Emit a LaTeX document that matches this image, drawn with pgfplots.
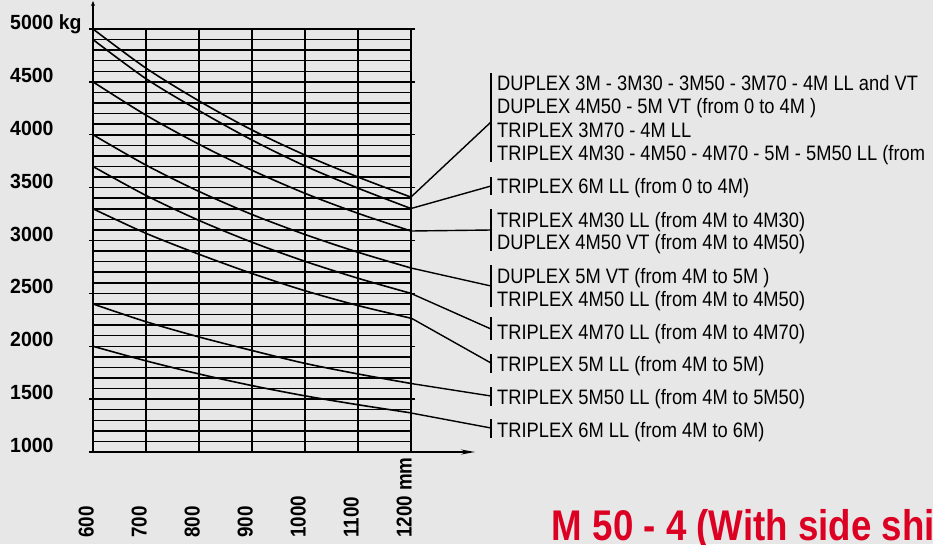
\documentclass[border=0pt]{standalone}
\usepackage{pgfplots}
\pgfplotsset{compat=1.18}
\usetikzlibrary{arrows.meta}
\usepackage{fontspec}
\setmainfont{Liberation Sans}
\newfontfamily\cond[FakeStretch=0.875]{Liberation Sans}
\newfontfamily\condb[FakeStretch=0.95]{Liberation Sans}
\newfontfamily\condt[FakeStretch=0.855]{Liberation Sans}

\definecolor{bg}{RGB}{231,231,231}
\definecolor{titlered}{RGB}{220,0,35}

\pgfplotstableread{
mm kg
600 5000
700 4630
800 4320
900 4045
1000 3808
1100 3600
1200 3410
}\curvea
\pgfplotstableread{
mm kg
600 4900
700 4530
800 4228
900 3950
1000 3705
1100 3495
1200 3302
}\curveb
\pgfplotstableread{
mm kg
600 4500
700 4185
800 3910
900 3664
1000 3446
1100 3257
1200 3090
}\curvec
\pgfplotstableread{
mm kg
600 4000
700 3713
800 3464
900 3246
1000 3057
1100 2889
1200 2740
}\curved
\pgfplotstableread{
mm kg
600 3700
700 3426
800 3190
900 2984
1000 2803
1100 2643
1200 2500
}\curvee
\pgfplotstableread{
mm kg
600 3300
700 3068
800 2870
900 2688
1000 2525
1100 2385
1200 2265
}\curvef
\pgfplotstableread{
mm kg
600 2400
700 2232
800 2088
900 1960
1000 1838
1100 1738
1200 1648
}\curveg
\pgfplotstableread{
mm kg
600 2000
700 1862
800 1738
900 1628
1000 1531
1100 1447
1200 1370
}\curveh

\begin{document}
\begin{tikzpicture}
\path[use as bounding box] (0pt,0pt) rectangle (933pt,-544pt);
\fill[bg] (0pt,0pt) rectangle (933pt,-544pt);
\clip (0pt,0pt) rectangle (933pt,-544pt);

\begin{axis}[
at={(93pt,-452pt)}, anchor=south west,
scale only axis,
width=318pt, height=423pt,
xmin=600, xmax=1200,
ymin=1000, ymax=5000,
clip=false,
axis line style={black, line width=1.6pt},
xtick={600,700,...,1200},
ytick={1000,1100,...,5000},
xticklabels={}, yticklabels={},
major tick length=0pt,
xmajorgrids, ymajorgrids,
major grid style={black, line width=1.5pt},
extra y ticks={1000,1500,...,5000},
extra y tick labels={},
extra y tick style={major tick length=4pt, tick align=outside, grid=none,
  tick style={black, line width=1.4pt}},
]
\addplot [black, line width=1.6pt, smooth] table [x=mm, y=kg] {\curvea};
\addplot [black, line width=1.6pt, smooth] table [x=mm, y=kg] {\curveb};
\addplot [black, line width=1.6pt, smooth] table [x=mm, y=kg] {\curvec};
\addplot [black, line width=1.6pt, smooth] table [x=mm, y=kg] {\curved};
\addplot [black, line width=1.6pt, smooth] table [x=mm, y=kg] {\curvee};
\addplot [black, line width=1.6pt, smooth] table [x=mm, y=kg] {\curvef};
\addplot [black, line width=1.6pt, smooth] table [x=mm, y=kg] {\curveg};
\addplot [black, line width=1.6pt, smooth] table [x=mm, y=kg] {\curveh};
\end{axis}

% axis arrows
\draw[line width=1.6pt, -{Stealth[length=14pt,width=5pt]}] (89pt,-452pt) -- (475pt,-452pt);
\draw[line width=1.6pt, -{Stealth[length=5pt,width=4pt]}] (93pt,-452pt) -- (93pt,-1pt);

% y tick labels
\begin{scope}[every node/.style={anchor=base west, inner sep=0pt,
  font=\condb\bfseries\fontsize{20.5}{24}\selectfont}]
\node at (10pt,-29.5pt) {5000 kg};
\node at (10pt,-82.4pt) {4500};
\node at (10pt,-135.3pt) {4000};
\node at (10pt,-188.1pt) {3500};
\node at (10pt,-241pt) {3000};
\node at (10pt,-293.9pt) {2500};
\node at (10pt,-346.8pt) {2000};
\node at (10pt,-399.6pt) {1500};
\node at (10pt,-452.5pt) {1000};
\end{scope}

% x tick labels
\begin{scope}[every node/.style={rotate=90, anchor=base west, inner sep=0pt,
  font=\cond\bfseries\fontsize{21.5}{24}\selectfont}]
\node at (93.5pt,-538pt) {600};
\node at (146.5pt,-538pt) {700};
\node at (199.5pt,-538pt) {800};
\node at (252.5pt,-538pt) {900};
\node at (305.5pt,-538pt) {1000};
\node at (358.5pt,-538pt) {1100};
\node at (411.5pt,-538pt) {1200 mm};
\end{scope}

% connectors and bars
\begin{scope}[line width=1.4pt]
\draw (411pt,-197pt) -- (491pt,-122pt);
\draw (411pt,-208.5pt) -- (491pt,-186pt);
\draw (411pt,-231pt) -- (491pt,-230pt);
\draw (411pt,-268pt) -- (491pt,-286pt);
\draw (411pt,-293.4pt) -- (491pt,-329pt);
\draw (411pt,-318pt) -- (491pt,-363pt);
\draw (411pt,-383.5pt) -- (491pt,-396pt);
\draw (411pt,-413pt) -- (491pt,-428pt);
\end{scope}
\begin{scope}[line width=2pt]
\draw (491pt,-73pt) -- (491pt,-162pt);
\draw (491pt,-177pt) -- (491pt,-195pt);
\draw (491pt,-209pt) -- (491pt,-251pt);
\draw (491pt,-265pt) -- (491pt,-307pt);
\draw (491pt,-317pt) -- (491pt,-340pt);
\draw (491pt,-354pt) -- (491pt,-373pt);
\draw (491pt,-387pt) -- (491pt,-406pt);
\draw (491pt,-419pt) -- (491pt,-438pt);
\end{scope}

% series labels
\begin{scope}[every node/.style={anchor=base west, inner sep=0pt,
  font=\cond\fontsize{20.9}{23}\selectfont}]
\node at (497pt,-90pt) {DUPLEX 3M - 3M30 - 3M50 - 3M70 - 4M LL and VT};
\node at (497pt,-113pt) {DUPLEX 4M50 - 5M VT (from 0 to 4M )};
\node at (497pt,-137pt) {TRIPLEX 3M70 - 4M LL};
\node at (497pt,-160pt) {TRIPLEX 4M30 - 4M50 - 4M70 - 5M - 5M50 LL (from};
\node at (497pt,-193pt) {TRIPLEX 6M LL (from 0 to 4M)};
\node at (497pt,-227pt) {TRIPLEX 4M30 LL (from 4M to 4M30)};
\node at (497pt,-249pt) {DUPLEX 4M50 VT (from 4M to 4M50)};
\node at (497pt,-283pt) {DUPLEX 5M VT (from 4M to 5M )};
\node at (497pt,-306pt) {TRIPLEX 4M50 LL (from 4M to 4M50)};
\node at (497pt,-339pt) {TRIPLEX 4M70 LL (from 4M to 4M70)};
\node at (497pt,-371pt) {TRIPLEX 5M LL (from 4M to 5M)};
\node at (497pt,-404pt) {TRIPLEX 5M50 LL (from 4M to 5M50)};
\node at (497pt,-437pt) {TRIPLEX 6M LL (from 4M to 6M)};
\end{scope}

% title
\node[anchor=base west, inner sep=0pt, text=titlered,
  font=\condt\bfseries\fontsize{42.9}{46}\selectfont] at (551.7pt,-540pt)
  {M 50 - 4 (With side shift)};
\end{tikzpicture}
\end{document}
